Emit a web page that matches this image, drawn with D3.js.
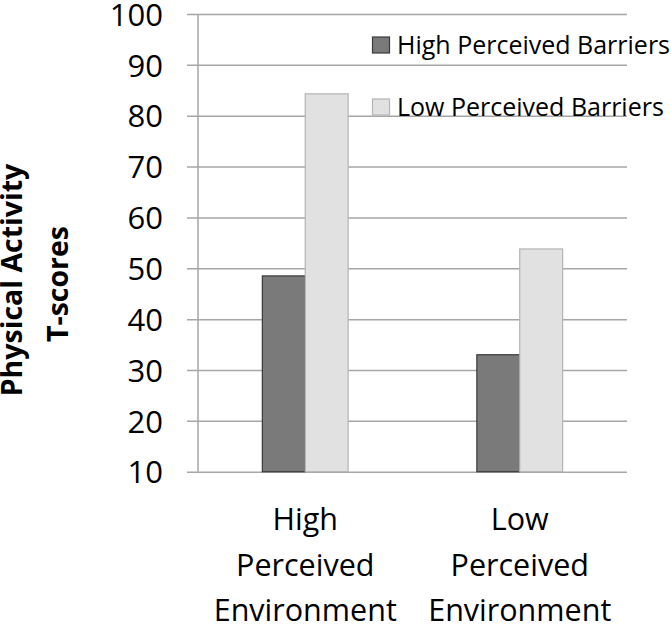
<!DOCTYPE html>
<html>
<head>
<meta charset="utf-8">
<script src="https://cdn.jsdelivr.net/npm/d3@7"></script>
<style>
  html, body { margin: 0; padding: 0; background: #fff; }
  svg { display: block; }
  text { font-family: "Open Sans", "Liberation Sans", sans-serif; fill: #000; }
</style>
</head>
<body>
<svg id="chart" width="671" height="624"></svg>
<script>
// ---- data ----
const categories = [["High", "Perceived", "Environment"], ["Low", "Perceived", "Environment"]];
const categoryKeys = ["High Perceived Environment", "Low Perceived Environment"];
const seriesNames = ["High Perceived Barriers", "Low Perceived Barriers"];
const highBarriers = [48.5, 33.0];
const lowBarriers = [84.3, 53.8];
const yTicks = [10, 20, 30, 40, 50, 60, 70, 80, 90, 100];
const yTitle = ["Physical Activity", "T-scores"];

const seriesValues = [highBarriers, lowBarriers];
const fills = ["#7a7a7a", "#e1e1e1"];
const strokes = ["#3a3a3a", "#b4b4b4"];

const svg = d3.select("#chart");
const plotLeft = 198, plotRight = 627, plotTop = 14, plotBottom = 471.7;

const y = d3.scaleLinear().domain([10, 100]).range([plotBottom, plotTop]);
const x0 = d3.scaleBand().domain(categoryKeys).range([plotLeft, plotRight]).paddingInner(0).paddingOuter(0);
const x1 = d3.scaleBand().domain(seriesNames).range([0, x0.bandwidth()]).paddingInner(0).paddingOuter(1.5);

// gridlines + tick labels (axis placed at right edge, ticks reaching left past the axis)
const gridLen = plotRight - 187;
const yAxis = d3.axisLeft(y).tickValues(yTicks).tickSize(gridLen).tickPadding(24).tickFormat(d3.format("d"));
const gAxis = svg.append("g").attr("transform", `translate(${plotRight},0)`).call(yAxis);
gAxis.select(".domain").remove();
gAxis.selectAll(".tick line").attr("stroke", "#a6a6a6").attr("stroke-width", 1.5);
gAxis.selectAll(".tick text")
  .attr("font-size", 31).attr("dy", "0.36em")
  .style("font-family", '"Open Sans", "Liberation Sans", sans-serif').attr("fill", "#000");

// y axis line
svg.append("line")
  .attr("x1", plotLeft).attr("x2", plotLeft).attr("y1", y(100)).attr("y2", y(10))
  .attr("stroke", "#a6a6a6").attr("stroke-width", 1.5);

// bars
const groups = svg.append("g").selectAll("g").data(categoryKeys).join("g")
  .attr("transform", d => `translate(${x0(d)},0)`);
groups.selectAll("rect")
  .data((d, i) => seriesNames.map((s, j) => ({ s, j, v: seriesValues[j][i] })))
  .join("rect")
  .attr("x", d => x1(d.s))
  .attr("width", x1.bandwidth())
  .attr("y", d => y(d.v))
  .attr("height", d => y(10) - y(d.v))
  .attr("fill", d => fills[d.j])
  .attr("stroke", d => strokes[d.j])
  .attr("stroke-width", 1.2);

// x labels
categoryKeys.forEach((k, i) => {
  const cx = x0(k) + x0.bandwidth() / 2;
  const t = svg.append("text")
    .attr("text-anchor", "middle")
    .attr("font-size", 30.5);
  categories[i].forEach((line, li) => {
    t.append("tspan")
      .attr("x", cx)
      .attr("y", 530 + li * 45.5)
      .text(line);
  });
});

// y title
const titleX = [22, 68];
const titleY = [280, 284];
yTitle.forEach((line, i) => {
  svg.append("text")
    .attr("transform", `translate(${titleX[i]},${titleY[i]}) rotate(-90)`)
    .attr("text-anchor", "middle")
    .attr("font-size", 28.5)
    .attr("font-weight", "bold")
    .text(line);
});

// legend
const legend = svg.append("g").selectAll("g").data(seriesNames).join("g")
  .attr("transform", (d, i) => `translate(372.5,${53.5 + i * 62})`);
legend.append("rect")
  .attr("x", 0).attr("y", -16.5).attr("width", 17).attr("height", 16)
  .attr("fill", (d, i) => fills[i]).attr("stroke", (d, i) => strokes[i]).attr("stroke-width", 1.2);
legend.append("text")
  .attr("x", 24.5).attr("y", 0)
  .attr("font-size", 25)
  .text(d => d);
</script>
</body>
</html>
